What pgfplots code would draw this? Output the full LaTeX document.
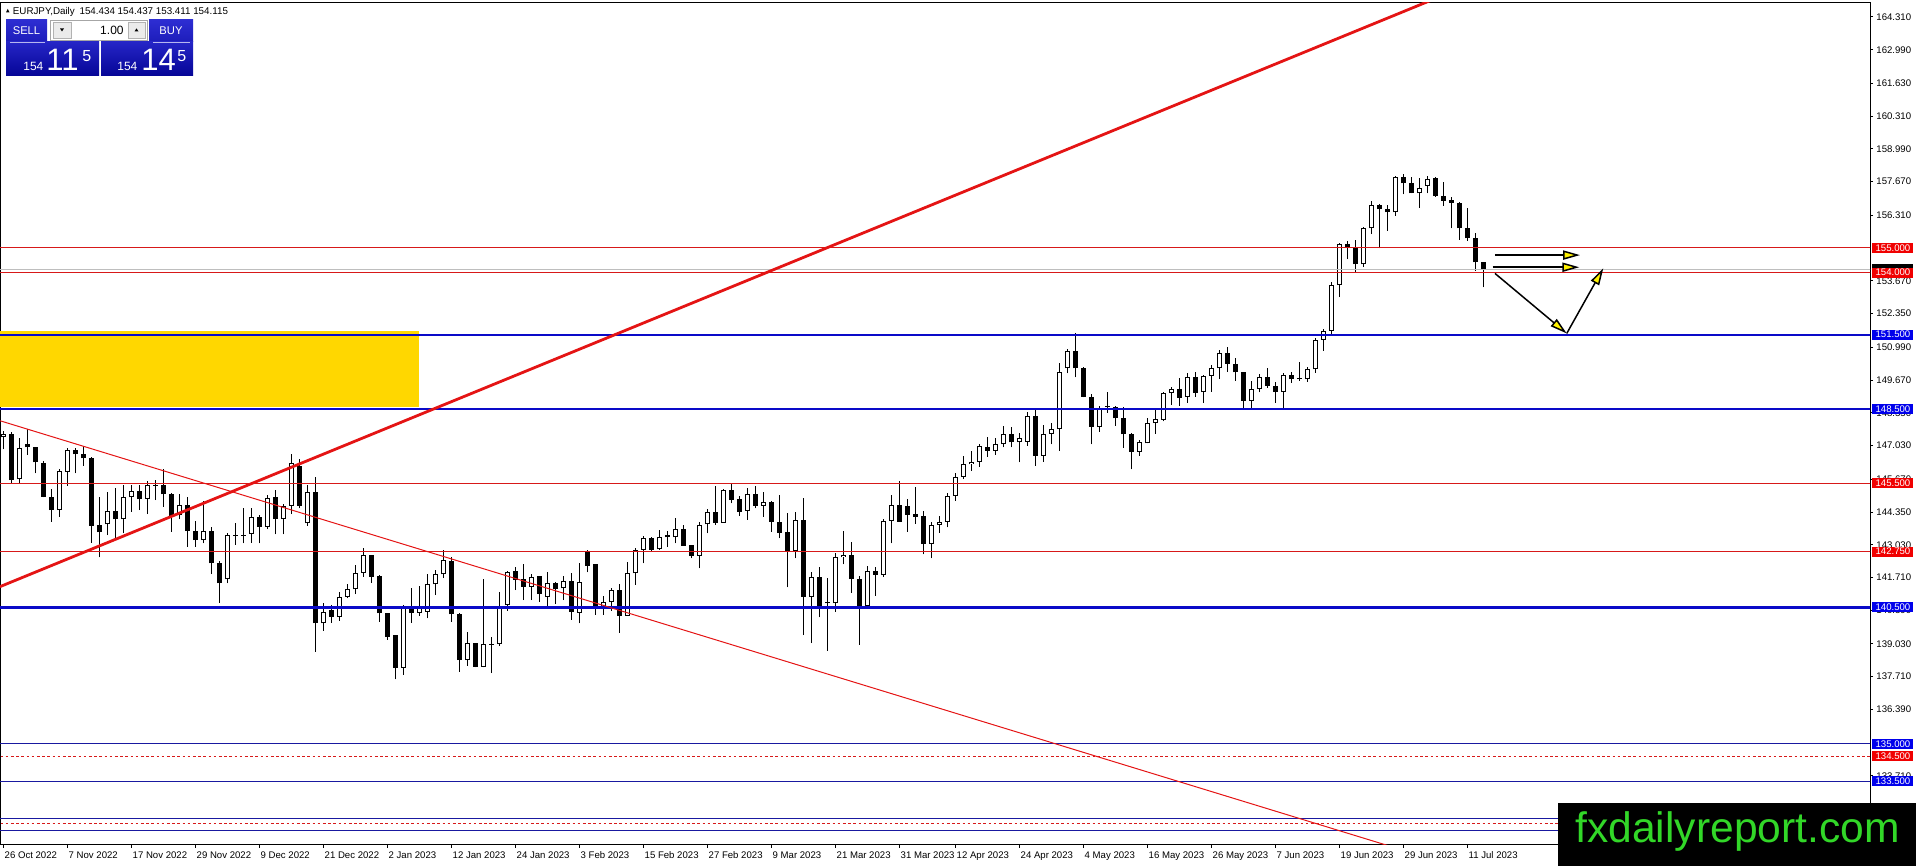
\documentclass[border=0pt]{standalone}
\usepackage{fontspec}
\setmainfont{Liberation Sans}
\usepackage{pgfplots}
\pgfplotsset{compat=1.18}
\usepackage{pgfplotstable}
\usetikzlibrary{arrows.meta}

\definecolor{lvred}{RGB}{215,25,25}
\definecolor{trred}{RGB}{228,20,20}
\definecolor{lblred}{RGB}{240,0,0}
\definecolor{lvblue}{RGB}{10,10,200}
\definecolor{thinblue}{RGB}{25,25,160}
\definecolor{lblblue}{RGB}{0,0,235}
\definecolor{gold}{RGB}{255,215,0}
\definecolor{wmgreen}{RGB}{50,215,40}
\definecolor{bidgray}{RGB}{190,190,190}
\definecolor{pantop}{RGB}{45,45,210}
\definecolor{panbot}{RGB}{5,5,150}

\newcommand{\tf}{\fontsize{4.8}{5.5}\selectfont}

\pgfplotstableread{
i o h l c
0 147.36 147.63 146.88 147.50
1 147.50 147.59 145.53 145.64
2 145.67 147.32 145.53 146.92
3 147.09 147.68 146.65 146.96
4 146.96 146.98 145.91 146.35
5 146.34 146.42 144.94 144.97
6 144.97 145.26 143.96 144.43
7 144.43 146.08 144.16 146.00
8 145.96 146.92 145.41 146.85
9 146.85 146.92 145.91 146.67
10 146.69 147.01 146.22 146.51
11 146.51 146.58 143.11 143.79
12 143.83 144.94 142.52 143.53
13 143.85 145.16 143.42 144.39
14 144.39 145.30 143.29 144.05
15 144.05 145.44 143.49 144.94
16 144.94 145.44 144.36 145.20
17 145.20 145.44 144.43 144.86
18 144.89 145.61 144.26 145.44
19 145.44 145.64 144.83 145.40
20 145.44 146.07 144.57 145.06
21 145.08 145.10 143.56 144.19
22 144.23 145.06 144.05 144.62
23 144.62 144.94 142.95 143.58
24 143.58 143.99 142.95 143.22
25 143.22 144.79 143.09 143.58
26 143.58 143.73 141.85 142.28
27 142.28 142.39 140.69 141.47
28 141.63 143.52 141.47 143.42
29 143.42 143.92 143.02 143.38
30 143.42 144.50 143.09 143.38
31 143.46 144.50 143.11 144.16
32 144.16 144.23 143.09 143.76
33 143.76 145.04 143.65 144.93
34 144.94 145.25 143.45 144.06
35 144.06 144.67 143.45 144.59
36 144.61 146.68 144.26 146.31
37 146.20 146.47 144.50 144.61
38 143.89 145.44 143.80 145.14
39 145.14 145.75 138.72 139.86
40 139.86 140.70 139.57 140.33
41 140.40 140.60 139.89 140.13
42 140.13 141.14 139.97 140.94
43 140.94 141.45 140.87 141.23
44 141.23 142.21 141.04 141.91
45 141.91 142.89 141.74 142.60
46 142.60 142.60 141.50 141.74
47 141.77 141.81 139.93 140.26
48 140.26 140.29 139.19 139.32
49 139.39 139.39 137.60 138.07
50 138.07 140.60 137.78 140.53
51 140.53 141.27 139.89 140.29
52 140.29 141.37 140.16 140.47
53 140.33 141.85 140.06 141.43
54 141.43 142.01 141.00 141.84
55 141.84 142.82 141.68 142.41
56 142.37 142.55 139.93 140.22
57 140.24 140.29 137.91 138.38
58 138.38 139.53 138.16 139.06
59 139.06 139.06 138.09 138.11
60 138.11 141.64 138.09 139.02
61 139.02 139.32 137.85 138.99
62 139.02 141.11 138.95 140.49
63 140.60 141.98 140.37 141.94
64 141.97 142.15 141.20 141.61
65 141.63 142.24 140.80 141.34
66 141.34 141.84 140.80 141.74
67 141.77 141.77 140.73 141.04
68 140.94 141.92 140.53 141.47
69 141.47 141.51 140.64 141.25
70 141.27 141.77 140.80 141.57
71 141.57 141.88 140.00 140.33
72 140.29 142.28 139.86 141.53
73 142.78 142.82 141.92 142.19
74 142.25 142.25 140.20 140.53
75 140.53 140.96 140.20 140.71
76 140.71 141.30 140.36 141.20
77 141.20 141.43 139.48 140.17
78 140.17 142.32 140.16 141.88
79 141.88 142.91 141.41 142.82
80 142.82 143.38 142.28 143.29
81 143.29 143.33 142.78 142.82
82 142.84 143.62 142.82 143.36
83 143.41 143.58 142.95 143.33
84 143.33 144.09 143.09 143.68
85 143.68 143.83 142.98 142.98
86 143.02 143.02 142.48 142.59
87 142.59 143.96 142.08 143.81
88 143.85 144.46 143.49 144.36
89 144.36 145.40 143.83 143.92
90 143.92 145.26 143.92 145.24
91 145.24 145.51 144.70 144.83
92 144.86 144.99 144.19 144.36
93 144.40 145.30 144.03 145.06
94 145.06 145.40 144.50 144.60
95 144.60 145.17 144.16 144.74
96 144.74 144.81 143.56 143.96
97 143.96 145.04 143.29 143.52
98 143.53 144.30 141.31 142.79
99 142.79 144.34 142.48 144.03
100 144.03 144.93 139.39 140.94
101 140.94 141.92 139.06 141.72
102 141.72 142.12 140.10 140.57
103 140.71 141.68 138.76 140.67
104 140.67 142.71 140.33 142.52
105 142.52 143.58 142.24 142.62
106 142.62 143.13 141.10 141.64
107 141.64 141.77 138.99 140.57
108 140.57 142.17 140.53 141.96
109 141.96 142.15 140.98 141.82
110 141.82 144.06 141.72 143.99
111 143.99 145.04 143.09 144.62
112 144.62 145.61 143.96 143.96
113 144.59 144.87 143.56 144.23
114 144.27 145.37 143.87 144.16
115 144.19 144.39 142.64 143.05
116 143.05 143.93 142.48 143.83
117 143.83 144.19 143.52 143.96
118 143.96 145.13 143.73 145.00
119 145.00 145.91 144.81 145.78
120 145.78 146.61 145.68 146.27
121 146.27 146.81 146.02 146.37
122 146.37 147.09 146.18 147.01
123 146.96 147.36 146.58 146.82
124 146.82 147.32 146.65 147.08
125 147.09 147.82 146.96 147.50
126 147.50 147.77 146.96 147.16
127 147.16 147.52 146.35 147.32
128 147.19 148.40 147.03 148.22
129 148.22 148.53 146.22 146.62
130 146.62 147.86 146.38 147.50
131 147.50 147.93 147.08 147.68
132 147.68 150.35 146.82 150.01
133 150.14 150.91 149.94 150.84
134 150.84 151.58 149.78 150.14
135 150.14 150.18 148.97 149.00
136 149.00 149.11 147.08 147.79
137 147.77 148.64 147.59 148.50
138 148.60 149.18 148.36 148.59
139 148.60 148.64 147.83 148.13
140 148.13 148.60 146.94 147.48
141 147.50 147.52 146.07 146.78
142 146.78 147.25 146.61 147.16
143 147.12 148.13 147.12 147.93
144 147.93 148.46 147.50 148.09
145 148.06 149.18 148.00 149.14
146 149.14 149.40 148.67 149.30
147 149.31 149.74 148.63 148.96
148 149.00 149.97 148.76 149.78
149 149.78 149.98 149.00 149.16
150 149.18 149.87 148.76 149.83
151 149.85 150.28 149.20 150.14
152 150.14 150.88 149.71 150.75
153 150.75 150.99 150.01 150.32
154 150.32 150.55 149.65 149.98
155 149.98 150.01 148.56 148.84
156 148.84 149.65 148.53 149.30
157 149.30 149.91 149.17 149.78
158 149.78 150.14 149.37 149.44
159 149.44 149.61 148.76 149.20
160 149.20 149.97 148.53 149.87
161 149.87 149.98 149.57 149.70
162 149.71 150.41 149.65 149.70
163 149.70 150.21 149.61 150.10
164 150.10 151.35 149.97 151.29
165 151.29 151.72 150.86 151.66
166 151.66 153.64 151.53 153.50
167 153.50 155.21 153.01 155.16
168 155.14 155.29 154.55 155.02
169 155.02 155.32 154.00 154.34
170 154.34 155.83 154.22 155.79
171 155.79 156.89 155.55 156.72
172 156.72 156.77 154.98 156.55
173 156.55 156.73 155.69 156.43
174 156.43 157.90 156.30 157.84
175 157.84 157.97 157.16 157.60
176 157.60 157.84 157.20 157.20
177 157.20 157.80 156.62 157.40
178 157.50 157.90 157.20 157.79
179 157.80 157.84 157.07 157.09
180 157.09 157.67 156.70 156.90
181 156.93 157.04 155.79 156.80
182 156.80 156.86 155.32 155.79
183 155.79 156.59 155.29 155.38
184 155.38 155.59 154.08 154.42
185 154.434 154.437 153.411 154.115
}\candles

\begin{document}
\begin{tikzpicture}
\useasboundingbox (0,0) rectangle (958pt,433pt);
\begin{axis}[
  at={(0pt,10.5pt)}, anchor=south west,
  width=935pt, height=421pt, scale only axis,
  xmin=-0.4125, xmax=233.34, ymin=130.923, ymax=164.875,
  axis line style={black, line width=0.5pt},
  xtick pos=left, ytick pos=right, yticklabel pos=right,
  tick align=outside, major tick length=1.5pt,
  tick style={black, line width=0.5pt},
  scaled ticks=false,
  ytick={164.31,162.99,161.63,160.31,158.99,157.67,156.31,153.67,152.35,150.99,149.67,148.35,147.03,145.67,144.35,143.03,141.71,140.39,139.03,137.71,136.39,133.71},
  yticklabels={164.310,162.990,161.630,160.310,158.990,157.670,156.310,153.670,152.350,150.990,149.670,148.350,147.030,145.670,144.350,143.030,141.710,140.390,139.030,137.710,136.390,133.710},
  xtick={0,8,16,24,32,40,48,56,64,72,80,88,96,104,112,119,127,135,143,151,159,167,175,183},
  xticklabels={26 Oct 2022,7 Nov 2022,17 Nov 2022,29 Nov 2022,9 Dec 2022,21 Dec 2022,2 Jan 2023,12 Jan 2023,24 Jan 2023,3 Feb 2023,15 Feb 2023,27 Feb 2023,9 Mar 2023,21 Mar 2023,31 Mar 2023,12 Apr 2023,24 Apr 2023,4 May 2023,16 May 2023,26 May 2023,7 Jun 2023,19 Jun 2023,29 Jun 2023,11 Jul 2023},
  yticklabel style={anchor=west, inner sep=0pt, xshift=1.5pt, font=\tf},
  xticklabel style={anchor=north west, inner sep=0pt, xshift=0.5pt, yshift=-1.5pt, font=\tf},
]
% yellow zone
\addplot[fill=gold, draw=none] coordinates {(-1,148.6) (51.9,148.6) (51.9,151.65) (-1,151.65)} -- cycle;

% candles: wicks
\addplot[draw=none, mark=none, error bars/.cd, y dir=plus, y explicit, error mark=none,
  error bar style={draw=black, solid, line width=0.5pt}]
  table[x=i, y=l, y error plus expr={\thisrow{h}-\thisrow{l}}] {\candles};
% bodies
\addplot[draw=none, mark=none, error bars/.cd, y dir=plus, y explicit, error mark=none,
  error bar style={draw=black, solid, line width=2.5pt}]
  table[x=i, y expr={min(\thisrow{o},\thisrow{c})}, y error plus expr={max(abs(\thisrow{c}-\thisrow{o}),0.04)}] {\candles};
% white inside of rising candles
\addplot[draw=none, mark=none, error bars/.cd, y dir=plus, y explicit, error mark=none,
  error bar style={draw=white, solid, line width=1.5pt}]
  table[x=i, y expr={\thisrow{o}+0.04}, y error plus expr={max(\thisrow{c}-\thisrow{o}-0.08,0)}] {\candles};

% level lines
\addplot[lvred, line width=0.5pt] coordinates {(-1,155) (240,155)};
\addplot[bidgray, line width=0.5pt] coordinates {(-1,154.115) (240,154.115)};
\addplot[lvred, line width=0.5pt] coordinates {(-1,154) (240,154)};
\addplot[lvblue, line width=1.1pt] coordinates {(-1,151.5) (240,151.5)};
\addplot[lvblue, line width=1.1pt] coordinates {(-1,148.5) (240,148.5)};
\addplot[lvred, line width=0.5pt] coordinates {(-1,145.5) (240,145.5)};
\addplot[lvred, line width=0.5pt] coordinates {(-1,142.75) (240,142.75)};
\addplot[lvblue, line width=1.1pt] coordinates {(-1,140.5) (240,140.5)};
\addplot[thinblue, line width=0.5pt] coordinates {(-1,135) (240,135)};
\addplot[lvred, line width=0.5pt, dash pattern=on 1.3pt off 1.3pt] coordinates {(-1,134.5) (240,134.5)};
\addplot[thinblue, line width=0.5pt] coordinates {(-1,133.5) (240,133.5)};
\addplot[thinblue, line width=0.5pt] coordinates {(-1,132.0) (240,132.0)};
\addplot[lvred, line width=0.5pt, dash pattern=on 1.3pt off 1.3pt] coordinates {(-1,131.8) (240,131.8)};
\addplot[thinblue, line width=0.5pt] coordinates {(-1,131.5) (240,131.5)};

% trend lines
\addplot[trred, line width=1.4pt] coordinates {(-0.4125,141.34) (200,167.83)};
\addplot[trred, line width=0.5pt] coordinates {(-0.4125,148.03) (233.34,124.95)};

% arrows
\addplot[black, line width=0.75pt, -{Triangle[length=8.5pt, width=4.6pt, fill=yellow]}] coordinates {(186.46,154.71) (197.09,154.71)};
\addplot[black, line width=0.75pt, -{Triangle[length=8.5pt, width=4.6pt, fill=yellow]}] coordinates {(186.18,154.22) (197.0,154.22)};
\addplot[black, line width=0.75pt, -{Triangle[length=8.5pt, width=4.6pt, fill=yellow]}] coordinates {(186.46,153.97) (195.43,151.55)};
\addplot[black, line width=0.75pt, -{Triangle[length=8.5pt, width=4.6pt, fill=yellow]}] coordinates {(195.43,151.55) (200.0,154.18)};
\end{axis}

\begin{scope}[x=0.5pt, y=-0.5pt, shift={(0pt,433pt)}]
% price tags on the right scale
\tikzset{tag/.style={inner sep=0pt, minimum width=20.5pt, minimum height=5pt, anchor=west, text=white, font=\tf}}
\node[tag, fill=lblred] at (1872,247.9) {155.000};
\fill[black] (1872,264.5) rectangle (1913,270);
\node[tag, fill=lblred] at (1872,272.7) {154.000};
\node[tag, fill=lblblue] at (1872,334.7) {151.500};
\node[tag, fill=lblblue] at (1872,409.1) {148.500};
\node[tag, fill=lblred] at (1872,483.5) {145.500};
\node[tag, fill=lblred] at (1872,551.7) {142.750};
\node[tag, fill=lblblue] at (1872,607.5) {140.500};
\node[tag, fill=lblblue] at (1872,743.9) {135.000};
\node[tag, fill=lblred] at (1872,756.3) {134.500};
\node[tag, fill=lblblue] at (1872,781.1) {133.500};

% header line
\fill[black] (6,12.5) -- (9.5,12.5) -- (7.75,9) -- cycle;
\node[anchor=base west, inner sep=0pt, font=\fontsize{4.9}{5.5}\selectfont] at (12.5,15)
  {EURJPY,Daily\hspace{2.4pt}154.434 154.437 153.411 154.115};

% one-click trading panel
\shade[top color=pantop, bottom color=pantop!60!panbot] (6,20) rectangle (47,42);
\shade[top color=pantop, bottom color=pantop!60!panbot] (149,20) rectangle (193,42);
\shade[top color=pantop!80!panbot, bottom color=panbot] (6,42) rectangle (99,76);
\shade[top color=pantop!80!panbot, bottom color=panbot] (101,42) rectangle (193,76);
\draw[white!65!pantop, line width=0.4pt] (10,42) -- (45,42);
\draw[white!65!pantop, line width=0.4pt] (153,42) -- (190,42);
\fill[white] (50,20) rectangle (147,40);
\draw[black!35, line width=0.4pt] (50,20) rectangle (147,40);
\fill[black!8] (53,22) rectangle (71,38);
\draw[black!30, line width=0.3pt] (53,22) rectangle (71,38);
\fill[black!8] (128,22) rectangle (145,38);
\draw[black!30, line width=0.3pt] (128,22) rectangle (145,38);
\fill[black] (60,28.5) -- (64,28.5) -- (62,31.5) -- cycle;
\fill[black] (134.5,31.5) -- (138.5,31.5) -- (136.5,28.5) -- cycle;
\node[anchor=east, inner sep=0pt, font=\fontsize{6}{6}\selectfont] at (124,30.5) {1.00};
\node[inner sep=0pt, text=white, font=\fontsize{5.6}{6}\selectfont] at (26.5,31) {SELL};
\node[inner sep=0pt, text=white, font=\fontsize{5.6}{6}\selectfont] at (171,31) {BUY};
\node[anchor=base west, inner sep=0pt, text=white, font=\fontsize{6}{6}\selectfont] at (23,70.5) {154};
\node[anchor=base west, inner sep=0pt, text=white, font=\fontsize{15.5}{16}\selectfont] at (46,70.5) {11};
\node[anchor=base west, inner sep=0pt, text=white, font=\fontsize{8}{8}\selectfont] at (82,61.5) {5};
\node[anchor=base west, inner sep=0pt, text=white, font=\fontsize{6}{6}\selectfont] at (117,70.5) {154};
\node[anchor=base west, inner sep=0pt, text=white, font=\fontsize{15.5}{16}\selectfont] at (141,70.5) {14};
\node[anchor=base west, inner sep=0pt, text=white, font=\fontsize{8}{8}\selectfont] at (177,61.5) {5};

% watermark
\fill[black] (1558,803) rectangle (1916,866);
\node[anchor=base west, inner sep=0pt, text=wmgreen, font=\fontsize{21.3}{22}\selectfont] at (1575,843) {fxdailyreport.com};
\end{scope}
\end{tikzpicture}
\end{document}
